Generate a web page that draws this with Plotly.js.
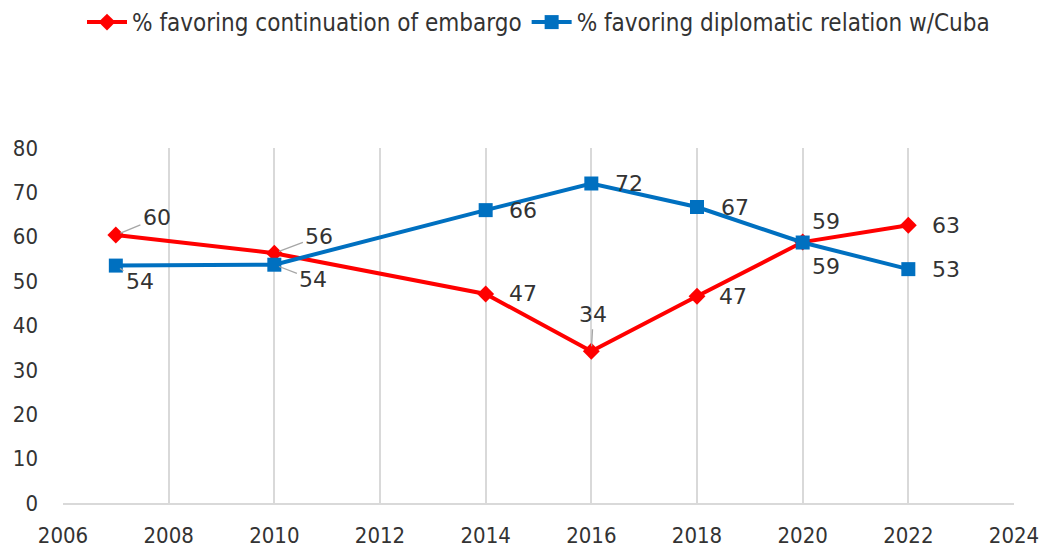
<!DOCTYPE html>
<html>
<head>
<meta charset="utf-8">
<script src="https://cdn.plot.ly/plotly-3.0.1.min.js"></script>
<style>
  html, body { margin: 0; padding: 0; background: #fff; }
  #chart { width: 1042px; height: 552px; }
</style>
</head>
<body>
<div id="chart"></div>
<script>
// ---- data ----
const years = [2007, 2010, 2014, 2016, 2018, 2020, 2022];
const embargo = [60.4, 56.3, 47.1, 34.2, 46.6, 58.8, 62.6];
const embargoLabels = ["60", "56", "47", "34", "47", "59", "63"];
const diplomatic = [53.5, 53.7, 66.0, 72.0, 66.7, 58.7, 52.7];
const diplomaticLabels = ["54", "54", "66", "72", "67", "59", "53"];
const seriesNames = ["% favoring continuation of embargo", "% favoring diplomatic relation w/Cuba"];

// ---- label offsets (pixels) ----
const embargoOffsets = [[41, -17, true], [45, -17, true], [37, 0, false], [2, -37, true], [36, 0, false], [23, -21, false], [38, 0, false]];
const diplomaticOffsets = [[24, 16, true], [39, 15, true], [37, 0, false], [38, 0, false], [38, 0, false], [23, 24, false], [38, 0, false]];

const RED = "#ff0000", BLUE = "#0070c0";
const FONT = "DejaVu Sans Condensed, Liberation Sans Narrow, sans-serif";
const TXT = "#333333";

const traces = [
  {
    x: years, y: embargo, name: seriesNames[0], type: "scatter", mode: "lines+markers",
    line: { color: RED, width: 4 },
    marker: { symbol: "diamond", size: 13, color: RED }
  },
  {
    x: years, y: diplomatic, name: seriesNames[1], type: "scatter", mode: "lines+markers",
    line: { color: BLUE, width: 4 },
    marker: { symbol: "square", size: 14, color: BLUE }
  }
];

function makeAnn(xs, ys, labels, offs) {
  return xs.map((x, i) => ({
    x: x, y: ys[i], xref: "x", yref: "y",
    text: labels[i],
    showarrow: true,
    arrowhead: 0, arrowwidth: 1.3,
    arrowcolor: offs[i][2] ? "#a6a6a6" : "rgba(0,0,0,0)",
    standoff: 5, startstandoff: 1,
    ax: offs[i][0], ay: offs[i][1],
    font: { family: "DejaVu Sans, sans-serif", size: 22, color: TXT }
  }));
}

const annotations = makeAnn(years, embargo, embargoLabels, embargoOffsets)
  .concat(makeAnn(years, diplomatic, diplomaticLabels, diplomaticOffsets));

const layout = {
  width: 1042, height: 552,
  margin: { l: 63, r: 28, t: 148, b: 49 },
  paper_bgcolor: "#ffffff", plot_bgcolor: "#ffffff",
  font: { family: FONT, size: 22, color: TXT },
  showlegend: true,
  legend: {
    orientation: "h", x: 0.5, xanchor: "center", xref: "paper",
    y: 1, yref: "container", yanchor: "top",
    font: { family: FONT, size: 24, color: TXT },
    itemwidth: 40, tracegroupgap: 0
  },
  xaxis: {
    range: [2006, 2024], tick0: 2006, dtick: 2,
    showgrid: true, gridcolor: "#d9d9d9", gridwidth: 2,
    showline: true, linecolor: "#d9d9d9", linewidth: 2,
    zeroline: false, ticks: "", ticklabelstandoff: 12,
    tickfont: { family: FONT, size: 22, color: TXT },
    fixedrange: true
  },
  yaxis: {
    range: [0, 80], tick0: 0, dtick: 10,
    showgrid: false, zeroline: false, showline: false,
    ticks: "", ticklabelstandoff: 24,
    tickfont: { family: FONT, size: 22, color: TXT },
    fixedrange: true
  },
  annotations: annotations
};

Plotly.newPlot("chart", traces, layout, { displayModeBar: false, staticPlot: true });
</script>
</body>
</html>
